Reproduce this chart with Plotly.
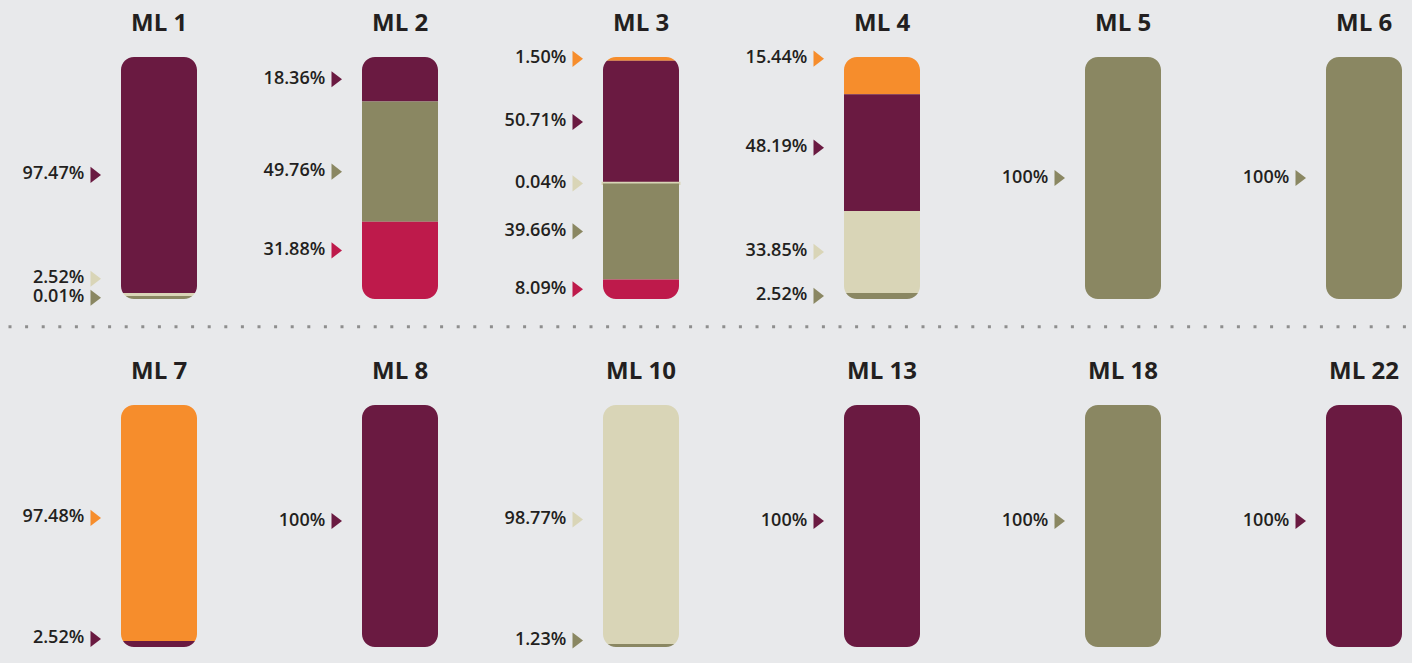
import plotly.graph_objects as go

# --- data -------------------------------------------------------------
ML_NAMES = ["ML 1", "ML 2", "ML 3", "ML 4", "ML 5", "ML 6",
            "ML 7", "ML 8", "ML 10", "ML 13", "ML 18", "ML 22"]

# shares (%) per ML, stacked bottom -> top in SERIES order
SERIES = ["crimson", "olive", "beige", "maroon", "orange"]
CRIMSON = [0, 31.88, 8.09, 0, 0, 0, 0, 0, 0, 0, 0, 0]
OLIVE = [0.01, 49.76, 39.66, 2.52, 100, 100, 0, 0, 1.23, 0, 100, 0]
BEIGE = [2.52, 0, 0.04, 33.85, 0, 0, 0, 0, 98.77, 0, 0, 0]
MAROON = [97.47, 18.36, 50.71, 48.19, 0, 0, 2.52, 100, 0, 100, 0, 100]
ORANGE = [0, 0, 1.50, 15.44, 0, 0, 97.48, 0, 0, 0, 0, 0]

# --- style ------------------------------------------------------------
COLORS = {
    'crimson': '#BE1A4B',
    'olive': '#8A8762',
    'beige': '#D9D5B7',
    'maroon': '#6A1A41',
    'orange': '#F68D2C',
}
UNDERLINE = ['#D6D5C5', '#FBC4AE', '#957C7B', '#D8B2B0', '#846A6B', '#67504F',
             '#C6C6E0', '#C4B49A', '#94696F', '#B5C2BC', '#A8607D', '#D0C7B8']
BG = '#E8E9EB'
TEXT = '#231F20'
FONT = 'Open Sans'

W, H = 1412, 663
STEP = 241            # px between bar centres
FIRST = 159           # px centre of first bar
BAR_W = 76            # px
ROW_TOP = [57, 405]   # px top of bars
BAR_H = 242           # px
PX = BAR_H / 100      # px per %
RADIUS = 13
MIN_GAP = 19          # px between stacked labels
# hand tweaks of label positions (px, positive = up)
NUDGE = {(1, 'crimson'): 10, (1, 'olive'): -10, (3, 'orange'): 17, (3, 'maroon'): 5}
ROW_SHIFT = [0, 5]

values = dict(zip(SERIES, [CRIMSON, OLIVE, BEIGE, MAROON, ORANGE]))

# bases of each stacked segment
bases = {}
run = [0] * len(ML_NAMES)
for s in SERIES:
    bases[s] = list(run)
    run = [a + b for a, b in zip(run, values[s])]

fig = go.Figure()
shapes = []
annotations = []
k = 0.5523

for row in range(2):
    xa = 'x' if row == 0 else 'x2'
    ya = 'y' if row == 0 else 'y2'
    cols = list(range(6))
    idx = [row * 6 + c for c in cols]

    # top series drawn first so thin segments stay visible over their neighbours
    for s in reversed(SERIES):
        y = [values[s][i] for i in idx]
        b = [bases[s][i] for i in idx]
        lw = [(6 if bb == 0 else 3) if 0 < v < 1 else 0 for v, bb in zip(y, b)]
        fig.add_trace(go.Bar(
            x=cols, y=y, base=b, width=BAR_W / STEP,
            marker=dict(color=COLORS[s], line=dict(color=COLORS[s], width=lw)),
            xaxis=xa, yaxis=ya, hoverinfo='skip', name=s,
        ))

    # labels with triangle pointers
    lx, ly, lt, lc = [], [], [], []
    for c, i in zip(cols, idx):
        prev = None
        for s in SERIES:
            v = values[s][i]
            if v <= 0:
                continue
            pos = bases[s][i] + v / 2 + (NUDGE.get((i, s), 0) + ROW_SHIFT[row]) / PX
            pos = max(pos, 0.5)
            if prev is not None:
                pos = max(pos, prev + MIN_GAP / PX)
            prev = pos
            lx.append(c - (BAR_W / 2 + 27) / STEP)
            ly.append(pos)
            lt.append('100%' if v == 100 else f'{v:.2f}%')
            lc.append(COLORS[s])
    fig.add_trace(go.Scatter(
        x=lx, y=ly, text=lt, mode='markers+text', textposition='middle left',
        marker=dict(symbol='triangle-right', size=14, color=lc),
        textfont=dict(family=FONT, size=18, color=TEXT, weight=600),
        cliponaxis=False, xaxis=xa, yaxis=ya, hoverinfo='skip',
    ))

    for c, i in zip(cols, idx):
        name = ML_NAMES[i]
        annotations.append(dict(
            x=c, y=100, xref=xa, yref=ya, text=f'<b>{name}</b>', showarrow=False,
            yanchor='middle', yshift=36,
            font=dict(family=FONT, size=24, color=TEXT),
        ))
        uw = 12.8 * len(name)
        shapes.append(dict(
            type='rect', xref=xa, yref=ya, xsizemode='pixel', ysizemode='pixel',
            xanchor=c, yanchor=100, x0=-uw / 2, x1=uw / 2, y0=12, y1=22,
            fillcolor=UNDERLINE[i], line=dict(width=0),
        ))
        # rounded corners: mask the four corners with background
        r = RADIUS
        e = 4
        for sx, edge in ((1, c - BAR_W / STEP / 2), (-1, c + BAR_W / STEP / 2)):
            for sy, yanc in ((1, 0), (-1, 100)):
                p = (f'M{-e*sx},{-e*sy} L{r*sx},{-e*sy} L{r*sx},0 '
                     f'C{(r - k*r)*sx},0 0,{(r - k*r)*sy} 0,{r*sy} '
                     f'L{-e*sx},{r*sy} Z')
                shapes.append(dict(
                    type='path', xref=xa, yref=ya, xsizemode='pixel', ysizemode='pixel',
                    xanchor=edge, yanchor=yanc, path=p,
                    fillcolor=BG, line=dict(width=0), layer='above',
                ))

# dotted separator
shapes.append(dict(
    type='line', xref='paper', yref='paper', x0=8.5 / W, x1=1, y0=1 - 326.7 / H, y1=1 - 326.7 / H,
    line=dict(color='#8E8E8E', width=3, dash='3px,13.6px'),
))

xr = [-FIRST / STEP, (W - FIRST) / STEP]
fig.update_layout(
    width=W, height=H,
    margin=dict(l=0, r=0, t=0, b=0),
    paper_bgcolor=BG, plot_bgcolor=BG,
    barmode='overlay', showlegend=False,
    shapes=shapes, annotations=annotations,
    xaxis=dict(domain=[0, 1], range=xr, visible=False, anchor='y', fixedrange=True),
    xaxis2=dict(domain=[0, 1], range=xr, visible=False, anchor='y2', fixedrange=True),
    yaxis=dict(domain=[1 - (ROW_TOP[0] + BAR_H) / H, 1 - ROW_TOP[0] / H], range=[0, 100],
               visible=False, fixedrange=True),
    yaxis2=dict(domain=[1 - (ROW_TOP[1] + BAR_H) / H, 1 - ROW_TOP[1] / H], range=[0, 100],
                visible=False, fixedrange=True),
)

fig.write_html("out.html", config={'displayModeBar': False},
               post_script="document.body.style.margin='0';")
